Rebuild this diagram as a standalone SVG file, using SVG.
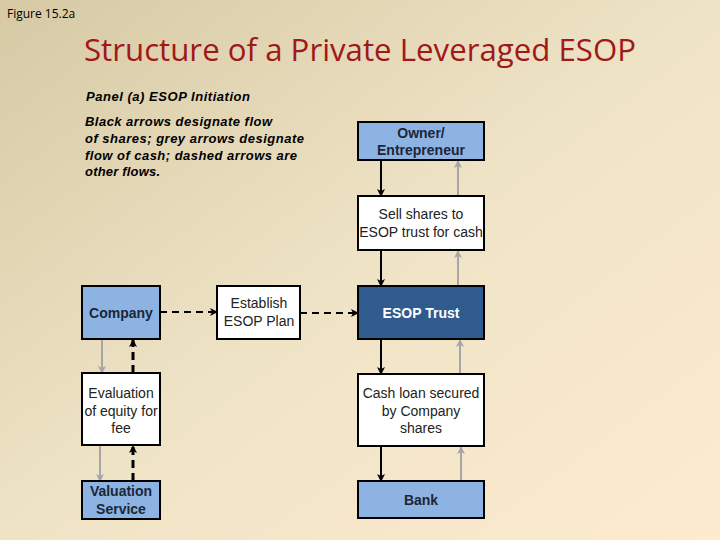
<svg xmlns="http://www.w3.org/2000/svg" width="720" height="540" viewBox="0 0 720 540">
<defs>
<linearGradient id="bg" x1="0" y1="0" x2="1" y2="1">
<stop offset="0" stop-color="#d6c9a4"/>
<stop offset="0.5" stop-color="#efe3c6"/>
<stop offset="1" stop-color="#fdebcf"/>
</linearGradient>
<marker id="ab" markerWidth="8" markerHeight="8" refX="7" refY="4" orient="auto" markerUnits="userSpaceOnUse">
<path d="M0,0 L8,4 L0,8 L2,4 Z" fill="#000"/>
</marker>
<marker id="ag" markerWidth="8" markerHeight="8" refX="7" refY="4" orient="auto" markerUnits="userSpaceOnUse">
<path d="M0,0 L8,4 L0,8 L2,4 Z" fill="#a6a6a6"/>
</marker>
</defs>
<style>
.box{stroke:#000;stroke-width:2}
.lb{fill:#8db3e2}
.db{fill:#2f5b8f}
.wh{fill:#fff}
.t{font-family:"Liberation Sans",Arial,sans-serif;font-size:14px;text-anchor:middle;fill:#222}
.tb{font-weight:bold;fill:#1c2638}
.tw{font-weight:bold;fill:#fff}
.bk{stroke:#000;stroke-width:2;fill:none;marker-end:url(#ab)}
.gr{stroke:#a6a6a6;stroke-width:2;fill:none;marker-end:url(#ag)}
.ds{stroke-dasharray:7,5}
.dv{stroke-width:3;stroke-dasharray:8,5}
.pn{font-family:"Liberation Sans",Arial,sans-serif;font-size:13px;font-weight:bold;font-style:italic;fill:#000}
</style>
<rect width="720" height="540" fill="url(#bg)"/>
<text x="7" y="18" font-family="'Open Sans','Liberation Sans',sans-serif" font-size="12" fill="#000">Figure 15.2a</text>
<text x="84" y="61" font-family="'Open Sans','Liberation Sans',sans-serif" font-size="31" fill="#a01818" textLength="552" lengthAdjust="spacingAndGlyphs">Structure of a Private Leveraged ESOP</text>
<text class="pn" x="86" y="101" textLength="164">Panel (a) ESOP Initiation</text>
<text class="pn" x="85" y="126" textLength="187">Black arrows designate flow</text>
<text class="pn" x="85" y="143" textLength="219">of shares; grey arrows designate</text>
<text class="pn" x="85" y="160" textLength="212">flow of cash; dashed arrows are</text>
<text class="pn" x="85" y="176" textLength="75">other flows.</text>

<g id="connectors">
<line class="bk" x1="381" y1="160" x2="381" y2="196"/>
<line class="gr" x1="458" y1="196" x2="458" y2="161"/>
<line class="bk" x1="381" y1="250" x2="381" y2="286"/>
<line class="gr" x1="458" y1="286" x2="458" y2="251"/>
<line class="bk" x1="381" y1="339" x2="381" y2="374"/>
<line class="gr" x1="460" y1="374" x2="460" y2="340"/>
<line class="bk" x1="381" y1="446" x2="381" y2="481"/>
<line class="gr" x1="461" y1="481" x2="461" y2="447"/>
<line class="bk ds" x1="160" y1="312" x2="217" y2="312"/>
<line class="bk ds" x1="300" y1="313" x2="358" y2="313"/>
<line class="gr" x1="102" y1="339" x2="102" y2="373"/>
<line class="bk dv" x1="133" y1="373" x2="133" y2="340"/>
<line class="gr" x1="100" y1="445" x2="100" y2="481"/>
<line class="bk dv" x1="133" y1="481" x2="133" y2="446"/>
</g>

<g id="owner"><rect class="box lb" x="358" y="122" width="126" height="38"/><text class="t tb" x="421" y="138">Owner/</text><text class="t tb" x="421" y="155">Entrepreneur</text></g>
<g id="sell"><rect class="box wh" x="358" y="196" width="126" height="54"/><text class="t" x="421" y="219">Sell shares to</text><text class="t" x="421" y="237">ESOP trust for cash</text></g>
<g id="trust"><rect class="box db" x="358" y="286" width="126" height="53"/><text class="t tw" x="421" y="318">ESOP Trust</text></g>
<g id="loan"><rect class="box wh" x="358" y="374" width="126" height="72"/><text class="t" x="421" y="398">Cash loan secured</text><text class="t" x="421" y="416">by Company</text><text class="t" x="421" y="433">shares</text></g>
<g id="bank"><rect class="box lb" x="358" y="481" width="126" height="37"/><text class="t tb" x="421" y="505">Bank</text></g>
<g id="company"><rect class="box lb" x="82" y="286" width="78" height="53"/><text class="t tb" x="121" y="318">Company</text></g>
<g id="plan"><rect class="box wh" x="217" y="286" width="83" height="53"/><text class="t" x="259" y="308">Establish</text><text class="t" x="259" y="326">ESOP Plan</text></g>
<g id="evaluation"><rect class="box wh" x="82" y="373" width="78" height="72"/><text class="t" x="121" y="398">Evaluation</text><text class="t" x="121" y="416">of equity for</text><text class="t" x="121" y="433">fee</text></g>
<g id="valuation"><rect class="box lb" x="82" y="481" width="78" height="38"/><text class="t tb" x="121" y="496">Valuation</text><text class="t tb" x="121" y="514">Service</text></g>
</svg>
